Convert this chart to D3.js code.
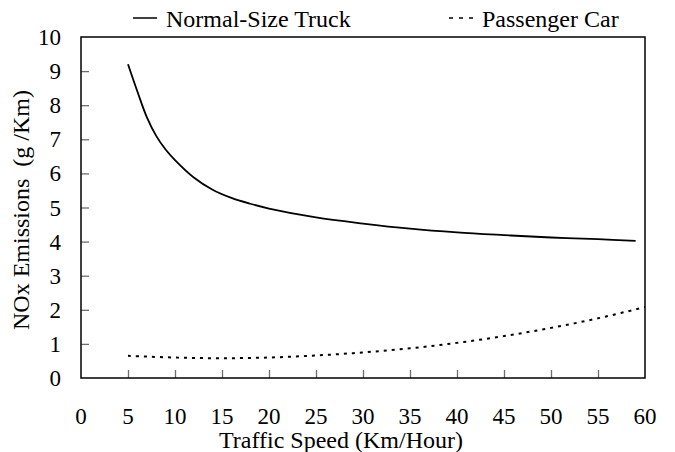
<!DOCTYPE html>
<html>
<head>
<meta charset="utf-8">
<script src="https://cdn.jsdelivr.net/npm/d3@7"></script>
</head>
<body style="margin:0">
<svg></svg>
<script>
// chart values
let truckSpeed = [5, 6, 7, 8, 9, 10, 12, 14, 16, 18, 20, 25, 30, 35, 40, 45, 50, 55, 59];
let truckNox = [9.2, 8.4, 7.65, 7.1, 6.7, 6.39, 5.88, 5.52, 5.28, 5.11, 4.97, 4.71, 4.53, 4.38, 4.27, 4.19, 4.12, 4.07, 4.02];
let carSpeed = [5, 10, 15, 20, 25, 30, 35, 40, 45, 50, 55, 60];
let carNox = [0.65, 0.6, 0.58, 0.6, 0.66, 0.75, 0.87, 1.03, 1.23, 1.47, 1.75, 2.08];
let xTicks = [0, 5, 10, 15, 20, 25, 30, 35, 40, 45, 50, 55, 60];
let yTicks = [0, 1, 2, 3, 4, 5, 6, 7, 8, 9, 10];

let width = 675;
let height = 452;
let plotLeft = 81, plotRight = 645, plotTop = 37, plotBottom = 378;
let serifFont = "'Liberation Serif'";

let svg = d3.select("svg")
  .attr("width", width)
  .attr("height", height);

let xScale = d3.scaleLinear().domain([0, 60]).range([plotLeft, plotRight]);
let yScale = d3.scaleLinear().domain([0, 10]).range([plotBottom, plotTop]);

// inner tick marks
let xAxis = d3.axisTop(xScale).tickValues(xTicks.slice(1, -1)).tickSize(8).tickFormat("");
let yAxis = d3.axisRight(yScale).tickValues(yTicks.slice(1, -1)).tickSize(8).tickFormat("");

svg.append("g")
  .attr("transform", "translate(0," + plotBottom + ")")
  .call(xAxis)
  .call((g) => g.select(".domain").remove())
  .selectAll("line").attr("stroke", "#6e6e6e").attr("stroke-width", 1.3);

svg.append("g")
  .attr("transform", "translate(" + plotLeft + ",0)")
  .call(yAxis)
  .call((g) => g.select(".domain").remove())
  .selectAll("line").attr("stroke", "#6e6e6e").attr("stroke-width", 1.3);

// frame
svg.append("rect")
  .attr("x", plotLeft).attr("y", plotTop)
  .attr("width", plotRight - plotLeft).attr("height", plotBottom - plotTop)
  .attr("fill", "none").attr("stroke", "#000").attr("stroke-width", 1.5);

// tick labels
svg.append("g").selectAll("text")
  .data(xTicks).enter().append("text")
  .attr("font-family", serifFont)
  .attr("x", (d) => xScale(d))
  .attr("y", 424)
  .attr("text-anchor", "middle")
  .attr("font-size", 23)
  .text((d) => d);

svg.append("g").selectAll("text")
  .data(yTicks).enter().append("text")
  .attr("font-family", serifFont)
  .attr("x", 61)
  .attr("y", (d) => yScale(d) + 8)
  .attr("text-anchor", "end")
  .attr("font-size", 23)
  .text((d) => d);

// series lines
let truckLine = d3.line()
  .x((d, i) => xScale(truckSpeed[i]))
  .y((d) => yScale(d))
  .curve(d3.curveCatmullRom.alpha(0.5));

let carLine = d3.line()
  .x((d, i) => xScale(carSpeed[i]))
  .y((d) => yScale(d))
  .curve(d3.curveCatmullRom.alpha(0.5));

svg.append("path")
  .attr("d", truckLine(truckNox))
  .attr("fill", "none").attr("stroke", "#000").attr("stroke-width", 1.8);

svg.append("path")
  .attr("d", carLine(carNox))
  .attr("fill", "none").attr("stroke", "#000").attr("stroke-width", 2)
  .attr("stroke-dasharray", "3,5");

// axis titles
svg.append("text")
  .attr("font-family", serifFont)
  .attr("x", 341).attr("y", 448)
  .attr("text-anchor", "middle")
  .attr("font-size", 24)
  .text("Traffic Speed (Km/Hour)");

svg.append("text")
  .attr("font-family", serifFont)
  .attr("transform", "translate(29,210) rotate(-90)")
  .attr("text-anchor", "middle")
  .attr("font-size", 24)
  .style("white-space", "pre")
  .text("NOx Emissions  (g /Km)");

// legend
svg.append("line")
  .attr("x1", 133).attr("x2", 157).attr("y1", 18).attr("y2", 18)
  .attr("stroke", "#000").attr("stroke-width", 1.5);
svg.append("text")
  .attr("font-family", serifFont)
  .attr("x", 166).attr("y", 27)
  .attr("font-size", 24)
  .text("Normal-Size Truck");

svg.append("line")
  .attr("x1", 449).attr("x2", 473).attr("y1", 18).attr("y2", 18)
  .attr("stroke", "#000").attr("stroke-width", 1.5)
  .attr("stroke-dasharray", "4,6");
svg.append("text")
  .attr("font-family", serifFont)
  .attr("x", 482).attr("y", 27)
  .attr("font-size", 24)
  .text("Passenger Car");
</script>
</body>
</html>
